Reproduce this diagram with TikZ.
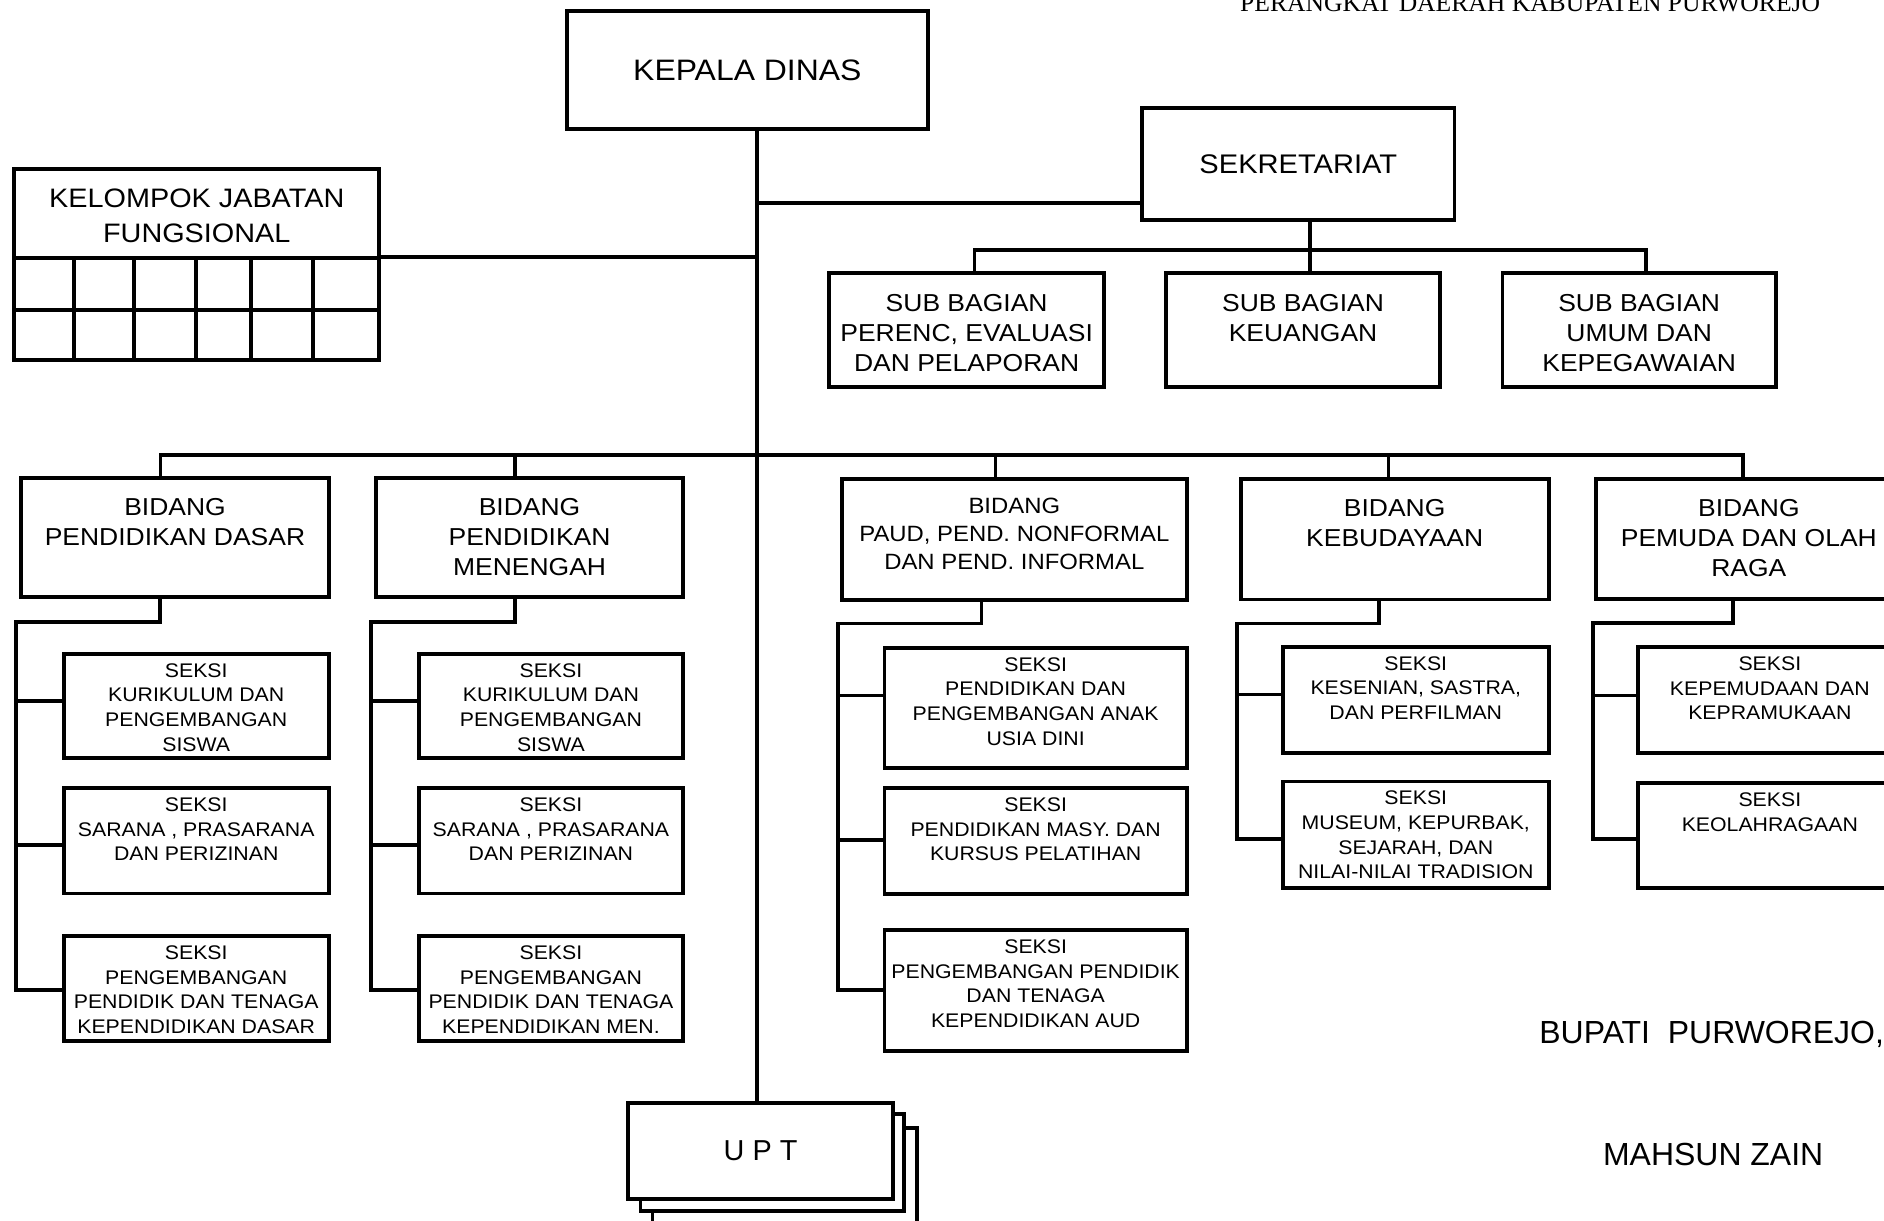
\documentclass[tikz,border=0pt]{standalone}
\usepackage{fontspec}
\setmainfont{Liberation Sans}[FakeStretch=1.08]
\newfontfamily\plainsans{Liberation Sans}
\newfontfamily\seriffont{Liberation Serif}
\usetikzlibrary{calc}
\newcommand{\obox}[6]{\node[box,minimum width={(#4-#2)*1pt},minimum height={(#5-#3)*1pt}] (#1) at ({(#2+#4)/2},{(#3+#5)/2}) {#6};}
\newcommand{\otxt}[4]{\node[txt,#2] (#1t) at ($(#1.north)+(0,#3)$) {#4};}
\tikzset{
  box/.style={draw, line width=3.2pt, inner sep=0pt, outer sep=0pt, fill=white},
  conn/.style={line width=3pt},
  grid/.style={line width=3.2pt},
  txt/.style={inner sep=0pt, outer sep=0pt, align=center, anchor=north},
  fseksi/.style={font=\fontsize{16.4}{20.5}\selectfont},
  fbid/.style={font=\fontsize{20.4}{25.2}\selectfont},
  fpaud/.style={font=\fontsize{18.4}{23.2}\selectfont},
  fkjf/.style={font=\fontsize{22.2}{28.6}\selectfont},
}
\begin{document}
\begin{tikzpicture}[x=1pt,y=-1pt]
\fill[white] (0,0) rectangle (1568,1016);
\useasboundingbox (0,0) rectangle (1568,1016);
\clip (0,0) rectangle (1568,1016);

% header text
\node[anchor=base west, inner sep=0pt, font=\seriffont\fontsize{21.3}{24}\selectfont] (hdr) at (1032,9.2) {PERANGKAT DAERAH KABUPATEN PURWOREJO};

% top level
\obox{kd}{472}{9}{772}{107.6}{\fontsize{24.6}{29}\selectfont KEPALA DINAS}
\obox{sek}{950.5}{90}{1210.5}{183}{\fontsize{22.4}{27}\selectfont SEKRETARIAT}

% kelompok jabatan fungsional
\obox{kjf}{12}{141}{315.5}{299.6}{}
\otxt{kjf}{fkjf}{16.6}{KELOMPOK JABATAN\\FUNGSIONAL}
\draw[grid] (12,214.5) -- (315.5,214.5);
\draw[grid] (12,258) -- (315.5,258);
\foreach \cx in {61.6,111.5,162.9,208.6,260.8} \draw[grid] (\cx,214.5) -- (\cx,299.6);

% sub bagian
\obox{sb1}{690}{227.5}{919}{322}{}
\obox{sb2}{970.5}{227.5}{1198.5}{322}{}
\obox{sb3}{1250.5}{227.5}{1478}{322}{}
\otxt{sb1}{fbid}{17.2}{SUB BAGIAN\\PERENC, EVALUASI\\DAN PELAPORAN}
\otxt{sb2}{fbid}{17.2}{SUB BAGIAN\\KEUANGAN}
\otxt{sb3}{fbid}{17.2}{SUB BAGIAN\\UMUM DAN\\KEPEGAWAIAN}

% bidang
\obox{b1}{17.8}{397.9}{273.5}{497}{}
\obox{b2}{313}{397.9}{568.5}{497}{}
\obox{b3}{700.6}{398.8}{987.8}{499.1}{}
\obox{b4}{1032.6}{398.8}{1288.9}{499}{}
\obox{b5}{1328}{399}{1583}{498.7}{}
\otxt{b1}{fbid}{16.5}{BIDANG\\PENDIDIKAN DASAR}
\otxt{b2}{fbid}{16.5}{BIDANG\\PENDIDIKAN\\MENENGAH}
\otxt{b3}{fpaud}{16.1}{BIDANG\\PAUD, PEND. NONFORMAL\\DAN PEND. INFORMAL}
\otxt{b4}{fbid}{16.5}{BIDANG\\KEBUDAYAAN}
\otxt{b5}{fbid}{16.5}{BIDANG\\PEMUDA DAN OLAH\\RAGA}

% seksi
\obox{s1a}{53.1}{544}{273.5}{631}{}
\obox{s1b}{53.1}{656}{273.5}{743.6}{}
\obox{s1c}{53.1}{779}{273.5}{866.7}{}
\obox{s2a}{348.5}{544}{568.5}{631}{}
\obox{s2b}{348.5}{656}{568.5}{743.6}{}
\obox{s2c}{348.5}{779}{568.5}{866.7}{}
\obox{s3a}{736.1}{539}{987.8}{639.2}{}
\obox{s3b}{736.1}{655.8}{987.8}{743.7}{}
\obox{s3c}{736.1}{774}{987.8}{875}{}
\obox{s4a}{1067.7}{538.3}{1288.9}{626.5}{}
\obox{s4b}{1067.7}{650.4}{1288.9}{739}{}
\obox{s5a}{1363}{538.6}{1583}{627}{}
\obox{s5b}{1363}{652}{1583}{739}{}
\otxt{s1a}{fseksi}{8.1}{SEKSI\\KURIKULUM DAN\\PENGEMBANGAN\\SISWA}
\otxt{s1b}{fseksi}{8.1}{SEKSI\\SARANA , PRASARANA\\DAN PERIZINAN}
\otxt{s1c}{fseksi}{8.1}{SEKSI\\PENGEMBANGAN\\PENDIDIK DAN TENAGA\\KEPENDIDIKAN DASAR}
\otxt{s2a}{fseksi}{8.1}{SEKSI\\KURIKULUM DAN\\PENGEMBANGAN\\SISWA}
\otxt{s2b}{fseksi}{8.1}{SEKSI\\SARANA , PRASARANA\\DAN PERIZINAN}
\otxt{s2c}{fseksi}{8.1}{SEKSI\\PENGEMBANGAN\\PENDIDIK DAN TENAGA\\KEPENDIDIKAN MEN.}
\otxt{s3a}{fseksi}{8.1}{SEKSI\\PENDIDIKAN DAN\\PENGEMBANGAN ANAK\\USIA DINI}
\otxt{s3b}{fseksi}{8.1}{SEKSI\\PENDIDIKAN MASY. DAN\\KURSUS PELATIHAN}
\otxt{s3c}{fseksi}{8.1}{SEKSI\\PENGEMBANGAN PENDIDIK\\DAN TENAGA\\KEPENDIDIKAN AUD}
\otxt{s4a}{fseksi}{8.1}{SEKSI\\KESENIAN, SASTRA,\\DAN PERFILMAN}
\otxt{s4b}{fseksi}{8.1}{SEKSI\\MUSEUM, KEPURBAK,\\SEJARAH, DAN\\NILAI-NILAI TRADISION}
\otxt{s5a}{fseksi}{8.1}{SEKSI\\KEPEMUDAAN DAN\\KEPRAMUKAAN}
\otxt{s5b}{fseksi}{8.1}{SEKSI\\KEOLAHRAGAAN}

% UPT stack
\obox{upt3}{543}{939}{763}{1022}{}
\obox{upt2}{533}{927}{752.5}{1008}{}
\obox{upt1}{523}{918}{743}{998}{\plainsans\fontsize{24}{28}\selectfont U P T}

% signature
\node[anchor=base west, inner sep=0pt, font=\plainsans\fontsize{26.6}{30}\selectfont] (bup) at (1281,868.4) {BUPATI\ \ PURWOREJO,};
\node[anchor=base west, inner sep=0pt, font=\plainsans\fontsize{26.6}{30}\selectfont] (nm) at (1334,970.4) {MAHSUN ZAIN};

% ---------- connectors ----------
\coordinate (spx) at (630,0);
\draw[conn] (kd.south -| spx) -- (upt1.north -| spx);
\coordinate (sekj) at (630,169);
\draw[conn] (sekj) -- (sekj -| sek.west);
\coordinate (kjfj) at (630,214);
\draw[conn] (kjfj -| kjf.east) -- (kjfj);

\coordinate (sbj) at (1090.5,208);
\coordinate (sbl) at (811,208);
\coordinate (sbr) at (1370,208);
\draw[conn] (sbj |- sek.south) -- (sbj);
\draw[conn] (sbl |- sb1.north) -- (sbl) -- (sbr) -- (sbr |- sb3.north);
\draw[conn] (sbj) -- (sbj |- sb2.north);

\coordinate (bd1) at (133.5,378.7);
\coordinate (bd2) at (428.4,378.7);
\coordinate (bd3) at (828.5,378.7);
\coordinate (bd4) at (1155.7,378.7);
\coordinate (bd5) at (1450.6,378.7);
\draw[conn] (bd1 |- b1.north) -- (bd1) -- (bd5) -- (bd5 |- b5.north);
\foreach \i in {2,3,4} \draw[conn] (bd\i) -- (bd\i |- b\i.north);

% subtree 1
\coordinate (e1) at (133,517.5); \coordinate (l1) at (13.4,517.5);
\coordinate (l1a) at (13.4,583.6); \coordinate (l1b) at (13.4,703.5); \coordinate (l1c) at (13.4,823.7);
\draw[conn] (e1 |- b1.south) -- (e1) -- (l1) -- (l1c) -- (l1c -| s1c.west);
\draw[conn] (l1a) -- (l1a -| s1a.west);
\draw[conn] (l1b) -- (l1b -| s1b.west);
% subtree 2
\coordinate (e2) at (428.4,517.5); \coordinate (l2) at (309,517.5);
\coordinate (l2a) at (309,583.6); \coordinate (l2b) at (309,703.5); \coordinate (l2c) at (309,823.7);
\draw[conn] (e2 |- b2.south) -- (e2) -- (l2) -- (l2c) -- (l2c -| s2c.west);
\draw[conn] (l2a) -- (l2a -| s2a.west);
\draw[conn] (l2b) -- (l2b -| s2b.west);
% subtree 3
\coordinate (e3) at (816.8,519); \coordinate (l3) at (697.4,519);
\coordinate (l3a) at (697.4,578.7); \coordinate (l3b) at (697.4,699); \coordinate (l3c) at (697.4,824);
\draw[conn] (e3 |- b3.south) -- (e3) -- (l3) -- (l3c) -- (l3c -| s3c.west);
\draw[conn] (l3a) -- (l3a -| s3a.west);
\draw[conn] (l3b) -- (l3b -| s3b.west);
% subtree 4
\coordinate (e4) at (1147.7,519); \coordinate (l4) at (1029.4,519);
\coordinate (l4a) at (1029.4,578); \coordinate (l4b) at (1029.4,698.2);
\draw[conn] (e4 |- b4.south) -- (e4) -- (l4) -- (l4b) -- (l4b -| s4b.west);
\draw[conn] (l4a) -- (l4a -| s4a.west);
% subtree 5
\coordinate (e5) at (1442.5,518.6); \coordinate (l5) at (1326,518.6);
\coordinate (l5a) at (1326,579); \coordinate (l5b) at (1326,698.5);
\draw[conn] (e5 |- b5.south) -- (e5) -- (l5) -- (l5b) -- (l5b -| s5b.west);
\draw[conn] (l5a) -- (l5a -| s5a.west);
\end{tikzpicture}
\end{document}
